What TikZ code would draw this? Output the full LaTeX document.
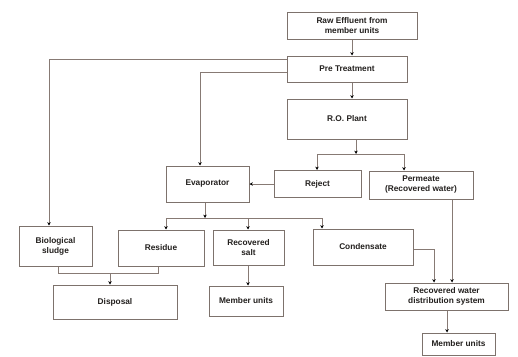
\documentclass[tikz,border=0pt]{standalone}
\usepackage{fontspec}
\setmainfont{Liberation Sans}
\usetikzlibrary{arrows.meta,calc}
\definecolor{wire}{RGB}{135,122,116}
\definecolor{edge}{RGB}{125,114,108}
\definecolor{ink}{RGB}{35,32,30}
\begin{document}
\begin{tikzpicture}[x=1pt,y=-1pt,
  box/.style={draw=edge,line width=1pt,fill=white,inner sep=0pt,align=center,
    text=ink,font=\bfseries\fontsize{8.3}{10}\selectfont},
  link/.style={draw=wire,line width=0.9pt},
  flow/.style={link,-{Stealth[length=3.4pt,width=3.4pt,color=black]}}]
\useasboundingbox (0,0) rectangle (518,356);

% process boxes
\node[box,minimum width=130pt,minimum height=27pt] (raw) at (352,25.5) {Raw Effluent from\\member units};
\node[box,minimum width=120pt,minimum height=26pt] (pre) at (347,69) {Pre Treatment};
\node[box,minimum width=120pt,minimum height=40pt] (ro) at (347,119) {R.O. Plant};
\node[box,minimum width=83pt,minimum height=36pt] (evap) at (207.5,184) {Evaporator};
\node[box,minimum width=87pt,minimum height=27pt] (reject) at (317.5,184) {Reject};
\node[box,minimum width=104pt,minimum height=28pt] (perm) at (421,185) {Permeate\\(Recovered water)};
\node[box,minimum width=73pt,minimum height=40pt] (bio) at (55.5,246) {Biological\\sludge};
\node[box,minimum width=86pt,minimum height=36pt] (res) at (161,248) {Residue};
\node[box,minimum width=71pt,minimum height=35pt] (salt) at (248.5,247.5) {Recovered\\salt};
\node[box,minimum width=100pt,minimum height=36pt] (cond) at (363,247) {Condensate};
\node[box,minimum width=124pt,minimum height=34pt] (disp) at (115,302) {Disposal};
\node[box,minimum width=74pt,minimum height=30pt] (mua) at (246,301) {Member units};
\node[box,minimum width=123pt,minimum height=27pt] (rwds) at (446.5,296.5) {Recovered water\\distribution system};
\node[box,minimum width=73pt,minimum height=22pt] (mub) at (458.5,344) {Member units};

% branch points
\coordinate (roSplit) at (356,154);
\coordinate (evSplit) at (205,218);
\coordinate (dispJoin) at (110,273);

% main line
\draw[flow] (raw.south -| 352,0) -- (pre.north -| 352,0);
\draw[flow] (pre.south -| 352,0) -- (ro.north -| 352,0);

% pre-treatment by-passes
\draw[flow] ($(pre.north west)!0.16!(pre.south west)$) -| (bio.north -| 49,0);
\draw[flow] ($(pre.north west)!0.62!(pre.south west)$) -| (evap.north -| 200,0);

% R.O. split
\draw[flow] (ro.south -| roSplit) -- (roSplit);
\draw[flow] (roSplit) -- (317,154) -- (reject.north -| 317,0);
\draw[flow] (roSplit) -- (404,154) -- (perm.north -| 404,0);
\draw[flow] (reject.west) -- (evap.east);

% evaporator split
\draw[flow] (evap.south -| evSplit) -- (evSplit);
\draw[flow] (evSplit) -- (166,218) -- (res.north -| 166,0);
\draw[flow] (evSplit) -- (248,218) -- (salt.north -| 248,0);
\draw[flow] (evSplit) -- (322,218) -- (cond.north -| 322,0);

% to disposal
\draw[link] (bio.south -| 58,0) |- (dispJoin);
\draw[link] (res.south -| 158,0) |- (dispJoin);
\draw[flow] (dispJoin) -- (disp.north -| dispJoin);

% recovered products
\draw[flow] (salt.south -| 248,0) -- (mua.north -| 248,0);
\draw[flow] (cond.east |- 0,249) -| (rwds.north -| 434,0);
\draw[flow] (perm.south -| 452,0) -- (rwds.north -| 452,0);
\draw[flow] (rwds.south -| 447,0) -- (mub.north -| 447,0);
\end{tikzpicture}
\end{document}
